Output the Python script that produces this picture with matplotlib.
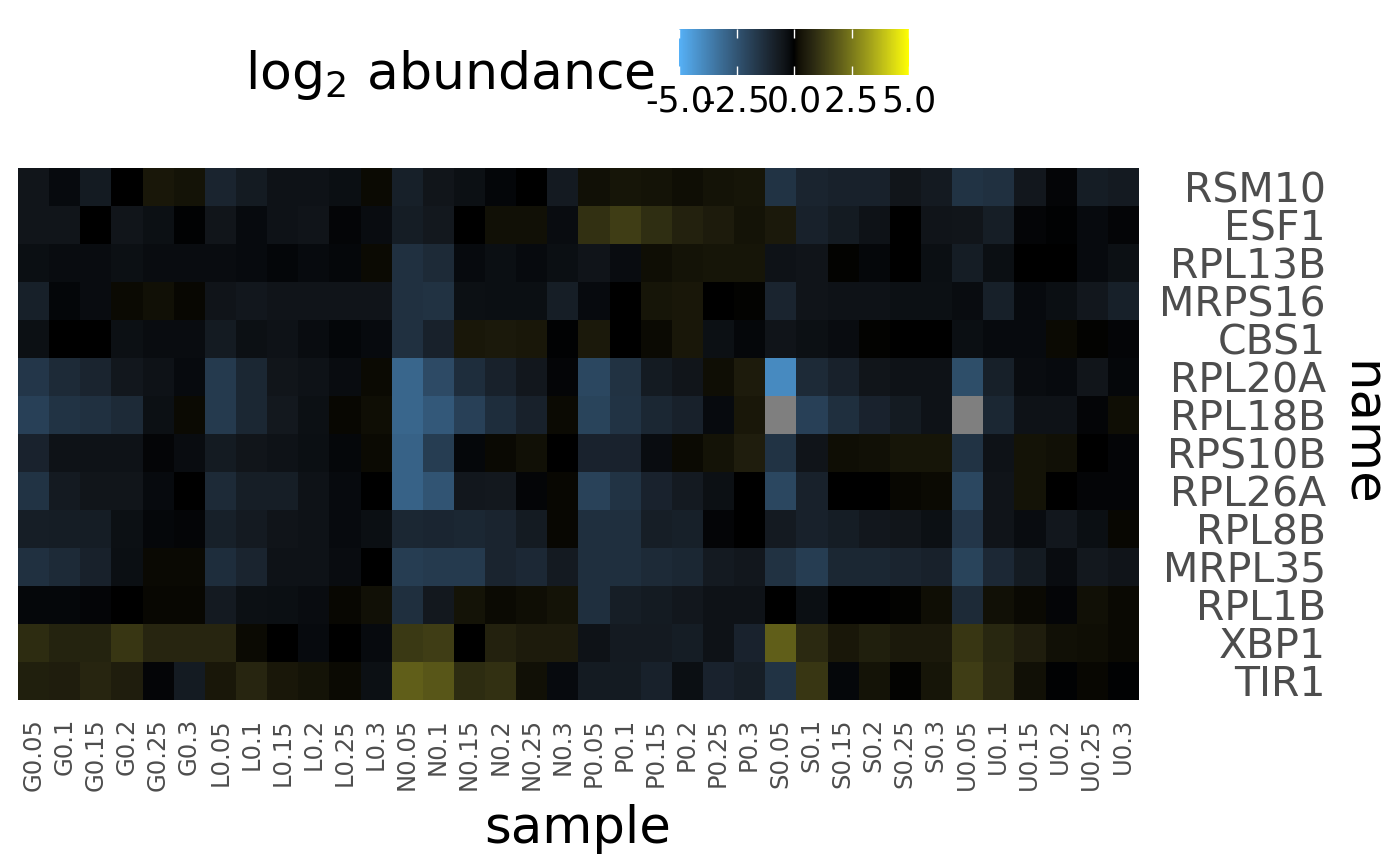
import numpy as np
import matplotlib
matplotlib.use("Agg")
import matplotlib.pyplot as plt
from matplotlib.colors import ListedColormap, Normalize

plt.rcParams['font.family'] = ['DejaVu Sans']
plt.rcParams['axes.unicode_minus'] = False
plt.rcParams['mathtext.default'] = 'regular'

samples = [f"{g}{c}" for g in ["G", "L", "N", "P", "S", "U"]
           for c in ["0.05", "0.1", "0.15", "0.2", "0.25", "0.3"]]
genes = ["RSM10", "ESF1", "RPL13B", "MRPS16", "CBS1", "RPL20A", "RPL18B",
         "RPS10B", "RPL26A", "RPL8B", "MRPL35", "RPL1B", "XBP1", "TIR1"]

nan = np.nan
RSM10 = [-0.5, -0.2, -0.7, 0, 0.4, 0.3, -1.0, -0.7, -0.4, -0.4, -0.3, 0.15,
         -0.85, -0.5, -0.35, -0.12, 0, -0.65, 0.25, 0.35, 0.3, 0.2, 0.3, 0.35,
         -1.5, -1.0, -0.9, -0.9, -0.5, -0.65, -1.5, -1.4, -0.55, -0.1, -0.75, -0.65]
ESF1 = [-0.5, -0.5, 0, -0.5, -0.35, -0.05, -0.5, -0.2, -0.4, -0.45, -0.1, -0.25,
        -0.75, -0.6, 0, 0.25, 0.25, -0.25, 1.0, 1.3, 0.95, 0.65, 0.5, 0.3,
        0.45, -0.9, -0.7, -0.4, 0, -0.45, -0.5, -0.8, -0.1, -0.05, -0.2, -0.1]
RPL13B = [-0.3, -0.25, -0.25, -0.35, -0.25, -0.25, -0.25, -0.2, -0.12, -0.2, -0.15, 0.15,
          -1.4, -1.2, -0.2, -0.3, -0.2, -0.3, -0.45, -0.25, 0.2, 0.3, 0.35, 0.35,
          -0.4, -0.45, 0.05, -0.15, 0, -0.3, -0.75, -0.3, 0, 0, -0.2, -0.35]
MRPS16 = [-0.85, -0.12, -0.25, 0.15, 0.25, 0.1, -0.45, -0.55, -0.45, -0.45, -0.45, -0.45,
          -1.4, -1.45, -0.35, -0.3, -0.3, -0.8, -0.2, 0, 0.35, 0.4, 0, 0.05,
          -1.0, -0.45, -0.4, -0.4, -0.35, -0.35, -0.25, -0.85, -0.2, -0.3, -0.55, -0.85]
CBS1 = [-0.35, 0, 0, -0.35, -0.25, -0.25, -0.7, -0.35, -0.4, -0.25, -0.12, -0.2,
        -1.4, -0.9, 0.4, 0.45, 0.4, -0.05, 0.45, 0, 0.15, 0.4, -0.35, -0.15,
        -0.45, -0.35, -0.25, 0.05, 0, 0, -0.3, -0.2, -0.2, 0.15, 0.05, -0.1]
RPL20A = [-1.6, -1.2, -1.0, -0.55, -0.4, -0.2, -1.7, -1.1, -0.5, -0.4, -0.25, 0.15,
          -3.0, -2.2, -1.3, -0.9, -0.55, -0.1, -2.1, -1.45, -0.7, -0.5, 0.2, 0.5,
          -4.0, -1.2, -0.9, -0.5, -0.4, -0.4, -2.3, -0.85, -0.25, -0.2, -0.5, -0.15]
RPL18B = [-1.9, -1.5, -1.4, -1.2, -0.35, 0.15, -1.7, -1.1, -0.6, -0.35, 0.1, 0.2,
          -3.0, -2.6, -1.9, -1.3, -0.9, 0.15, -2.0, -1.5, -1.1, -0.9, -0.2, 0.4,
          nan, -1.9, -1.35, -0.95, -0.7, -0.4, nan, -1.1, -0.4, -0.4, -0.1, 0.2]
RPS10B = [-0.95, -0.4, -0.4, -0.4, -0.1, -0.25, -0.7, -0.5, -0.4, -0.3, -0.15, 0.15,
          -2.9, -1.8, -0.15, 0.12, 0.25, 0, -0.95, -0.95, -0.25, 0.15, 0.3, 0.55,
          -1.5, -0.45, 0.2, 0.25, 0.35, 0.35, -1.5, -0.4, 0.3, 0.25, 0, -0.1]
RPL26A = [-1.5, -0.65, -0.5, -0.5, -0.2, 0, -1.2, -0.8, -0.8, -0.4, -0.2, 0,
          -2.9, -2.5, -0.55, -0.6, -0.1, 0.1, -1.95, -1.5, -0.95, -0.65, -0.35, 0,
          -2.1, -0.9, 0, 0, 0.1, 0.15, -2.1, -0.45, 0.3, 0, -0.1, -0.1]
RPL8B = [-0.8, -0.75, -0.75, -0.35, -0.15, -0.1, -0.85, -0.65, -0.45, -0.4, -0.2, -0.3,
         -1.1, -1.05, -1.1, -1.0, -0.7, 0.1, -1.35, -1.35, -0.8, -0.85, -0.1, 0,
         -0.65, -0.9, -0.75, -0.55, -0.5, -0.35, -1.6, -0.45, -0.25, -0.55, -0.3, 0.1]
MRPL35 = [-1.4, -1.2, -0.9, -0.3, 0.12, 0.12, -1.3, -1.0, -0.4, -0.4, -0.25, 0,
          -1.8, -1.7, -1.7, -1.0, -1.15, -0.65, -1.35, -1.35, -1.2, -1.1, -0.65, -0.55,
          -1.45, -1.8, -1.1, -1.1, -1.0, -0.9, -2.0, -1.15, -0.7, -0.25, -0.6, -0.45]
RPL1B = [-0.15, -0.15, -0.1, 0, 0.1, 0.1, -0.65, -0.35, -0.3, -0.25, 0.1, 0.25,
         -1.35, -0.6, 0.3, 0.15, 0.2, 0.3, -1.35, -0.8, -0.7, -0.55, -0.4, -0.4,
         0, -0.3, 0, 0, 0.05, 0.2, -1.2, 0.25, 0.12, -0.1, 0.25, 0.12]
XBP1 = [0.9, 0.7, 0.7, 1.15, 0.75, 0.75, 0.75, 0.15, 0, -0.2, 0, -0.2,
        1.2, 1.3, 0, 0.65, 0.5, 0.5, -0.4, -0.65, -0.65, -0.75, -0.4, -0.95,
        2.0, 0.85, 0.4, 0.6, 0.45, 0.45, 1.15, 0.8, 0.55, 0.25, 0.2, 0.12]
TIR1 = [0.6, 0.55, 0.75, 0.55, -0.1, -0.7, 0.4, 0.75, 0.4, 0.3, 0.15, -0.35,
        2.0, 1.85, 0.9, 1.0, 0.25, -0.2, -0.7, -0.7, -0.9, -0.3, -0.95, -0.8,
        -1.5, 1.15, -0.15, 0.3, 0.05, 0.35, 1.3, 0.85, 0.25, -0.05, 0.1, -0.05]

rows = [RSM10, ESF1, RPL13B, MRPS16, CBS1, RPL20A, RPL18B, RPS10B, RPL26A,
        RPL8B, MRPL35, RPL1B, XBP1, TIR1]
data = np.array(rows, dtype=float)

# ---- diverging colormap interpolated in CIELAB (like ggplot2 gradient2) ----
WHITE = np.array([0.95047, 1.0, 1.08883])
M = np.array([[0.4124564, 0.3575761, 0.1804375],
              [0.2126729, 0.7151522, 0.0721750],
              [0.0193339, 0.1191920, 0.9503041]])
Minv = np.linalg.inv(M)
d = 6 / 29


def hex2rgb(h):
    h = h.lstrip('#')
    return np.array([int(h[i:i + 2], 16) for i in (0, 2, 4)]) / 255.0


def rgb2lab(rgb):
    lin = np.where(rgb <= 0.04045, rgb / 12.92, ((rgb + 0.055) / 1.055) ** 2.4)
    xyz = M @ lin / WHITE
    f = np.where(xyz > d ** 3, np.cbrt(xyz), xyz / (3 * d * d) + 4 / 29)
    return np.array([116 * f[1] - 16, 500 * (f[0] - f[1]), 200 * (f[1] - f[2])])


def lab2rgb(lab):
    L, a, b = lab
    fy = (L + 16) / 116
    fx = fy + a / 500
    fz = fy - b / 200
    f = np.array([fx, fy, fz])
    xyz = np.where(f > d, f ** 3, 3 * d * d * (f - 4 / 29)) * WHITE
    lin = Minv @ xyz
    lin = np.clip(lin, 0, 1)
    rgb = np.where(lin <= 0.0031308, 12.92 * lin, 1.055 * lin ** (1 / 2.4) - 0.055)
    return np.clip(rgb, 0, 1)


low_lab = rgb2lab(hex2rgb('#56B1F7'))
high_lab = rgb2lab(hex2rgb('#FFFF00'))
colors = []
for v in np.linspace(-1, 1, 512):
    lab = (-v) * low_lab if v < 0 else v * high_lab
    colors.append(lab2rgb(lab))
cmap = ListedColormap(colors)
cmap.set_bad('#7F7F7F')
norm = Normalize(-5, 5)

# ---- figure ----
W, H = 1400, 866
fig = plt.figure(figsize=(W / 100, H / 100), dpi=100)
ax = fig.add_axes([18 / W, 1 - 700 / H, 1120 / W, 532 / H])
im = ax.imshow(np.ma.masked_invalid(data), cmap=cmap, norm=norm, aspect='auto',
               interpolation='nearest')
for s in ax.spines.values():
    s.set_visible(False)

ax.set_xticks(range(len(samples)))
ax.set_xticklabels(samples, rotation=90, fontsize=17.5, color='#4D4D4D')
ax.tick_params(axis='x', length=0, pad=13)

ax.yaxis.tick_right()
ax.set_yticks(range(len(genes)))
ax.set_yticklabels(genes, fontsize=29.5, color='#4D4D4D')
ax.tick_params(axis='y', length=0, pad=(1326 - 1138) * 0.72)
for lab in ax.get_yticklabels():
    lab.set_horizontalalignment('right')

fig.text(578 / W, 1 - 843 / H, 'sample', ha='center', va='baseline', fontsize=37)
fig.text(1360 / W, 1 - 434 / H, 'name', ha='center', va='center', rotation=-90,
         fontsize=37)

# ---- legend ----
fig.text(655 / W, 1 - 89 / H, 'log$_2$ abundance', ha='right', va='baseline',
         fontsize=37.5)
cax = fig.add_axes([679 / W, 1 - 75 / H, 230 / W, 46 / H])
cb = fig.colorbar(im, cax=cax, orientation='horizontal',
                  ticks=[-5, -2.5, 0, 2.5, 5])
cb.outline.set_visible(False)
cb.ax.set_xticklabels(['-5.0', '-2.5', '0.0', '2.5', '5.0'])
cax.tick_params(axis='x', direction='in', colors='white', length=6.5, width=1,
                top=True, bottom=True, labelsize=25, labelcolor='black', pad=7)

fig.savefig('out.png', dpi=100)
